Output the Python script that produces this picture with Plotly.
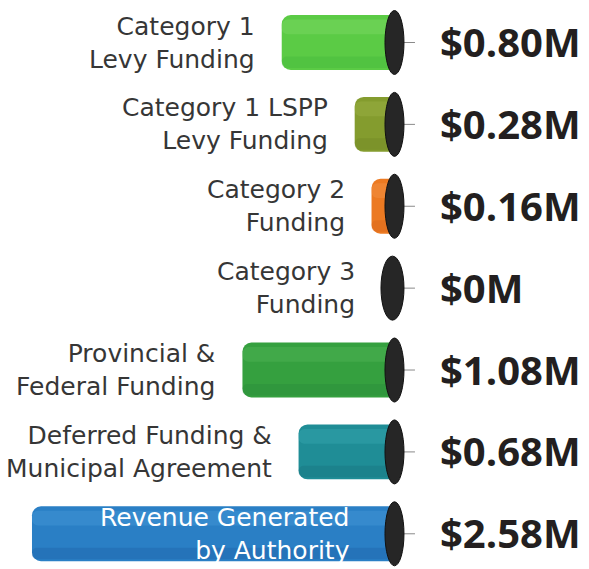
import plotly.graph_objects as go

categories = [
    "Category 1<br>Levy Funding",
    "Category 1 LSPP<br>Levy Funding",
    "Category 2<br>Funding",
    "Category 3<br>Funding",
    "Provincial &<br>Federal Funding",
    "Deferred Funding &<br>Municipal Agreement",
    "Revenue Generated<br>by Authority",
]
values = [0.80, 0.28, 0.16, 0.0, 1.08, 0.68, 2.58]
value_labels = ["$0.80M", "$0.28M", "$0.16M", "$0M", "$1.08M", "$0.68M", "$2.58M"]
colors = ["#5bcb45", "#849c2e", "#ec7a22", "#333333", "#35a03f", "#1f8d96", "#2a7fc5"]
highlights = ["#86de6c", "#a0b64a", "#f69c50", "#555555", "#58b95c", "#3bb0b8", "#4ca0dc"]
shadows = ["#3fb53a", "#6c8422", "#d4601a", "#222222", "#27883a", "#16707a", "#1d5fa3"]

W, H = 589, 569
X_LEFT, X_RIGHT = 2.808, -1.39          # reversed x range (bars grow leftwards)
PX_PER_UNIT = W / (X_LEFT - X_RIGHT)
Y_TOP, Y_BOTTOM = -0.519, 6.43

ypos = list(range(len(categories)))

fig = go.Figure()
fig.add_trace(go.Bar(
    x=values, y=ypos, orientation="h", width=0.67,
    marker=dict(color=colors, line=dict(width=0), cornerradius=9),
    hoverinfo="skip",
))
fig.add_trace(go.Bar(
    x=values, y=ypos, orientation="h", width=0.14, offset=0.17,
    marker=dict(color=shadows, opacity=0.35, line=dict(width=0), cornerradius=5),
    hoverinfo="skip",
))
fig.add_trace(go.Bar(
    x=values, y=ypos, orientation="h", width=0.18, offset=-0.28,
    marker=dict(color=highlights, opacity=0.35, line=dict(width=0), cornerradius=6),
    hoverinfo="skip",
))

annotations = []
shapes = []
CAP_HALF = 12
GAP = 25
for i, (cat, v, lab) in enumerate(zip(categories, values, value_labels)):
    bar_px = v * PX_PER_UNIT
    inside = bar_px > 300
    if inside:
        annotations.append(dict(
            x=0, y=i, xref="x", yref="y", text=cat, showarrow=False,
            xanchor="right", yanchor="middle", align="right", xshift=-42,
            font=dict(family="DejaVu Sans", size=25, color="white"),
        ))
    else:
        shift = -(GAP + max(0, CAP_HALF - bar_px))
        annotations.append(dict(
            x=v, y=i, xref="x", yref="y", text=cat, showarrow=False,
            xanchor="right", yanchor="middle", align="right", xshift=shift,
            font=dict(family="DejaVu Sans", size=25, color="#363636"),
        ))
    annotations.append(dict(
        x=0, y=i, xref="x", yref="y", text=lab, showarrow=False,
        xanchor="left", yanchor="middle", xshift=44, yshift=1,
        font=dict(family="Open Sans", size=40, color="#231f20", weight="bold"),
    ))
    shapes.append(dict(
        type="line", xref="x", yref="y", xsizemode="pixel", xanchor=0,
        ysizemode="pixel", yanchor=i, x0=8, x1=21, y0=0, y1=0,
        line=dict(color="#8a8a8a", width=1),
    ))
    shapes.append(dict(
        type="circle", xref="x", yref="y", xsizemode="pixel", xanchor=0,
        ysizemode="pixel", yanchor=i, x0=-9 if v > 0 else -13, x1=10, y0=-32, y1=32,
        fillcolor="#262626", line=dict(color="#111111", width=1),
    ))

fig.update_layout(
    width=W, height=H,
    margin=dict(l=0, r=0, t=0, b=0),
    paper_bgcolor="white", plot_bgcolor="white",
    barmode="overlay", showlegend=False,
    xaxis=dict(range=[X_LEFT, X_RIGHT], visible=False, fixedrange=True),
    yaxis=dict(range=[Y_BOTTOM, Y_TOP], visible=False, fixedrange=True),
    annotations=annotations, shapes=shapes,
)
fig.write_html("out.html", config={"displayModeBar": False},
               post_script="document.body.style.margin='0';")
